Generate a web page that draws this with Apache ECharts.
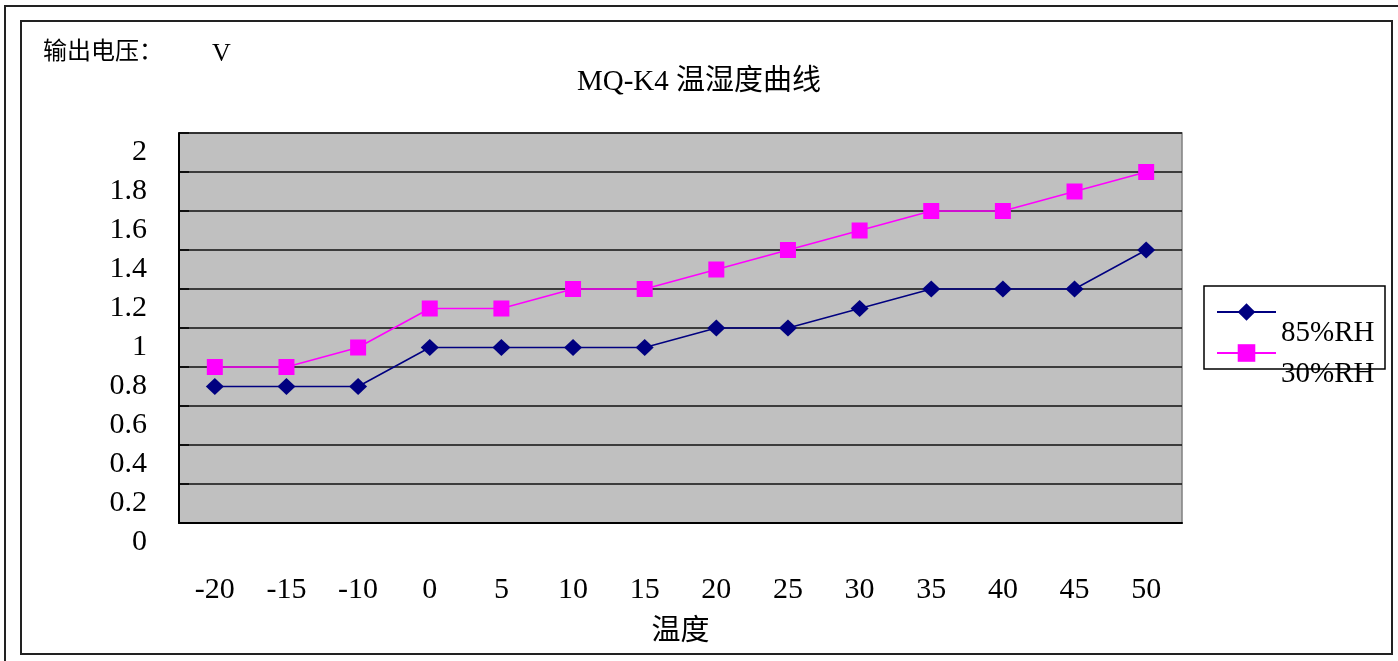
<!DOCTYPE html>
<html>
<head>
<meta charset="utf-8">
<script src="https://cdn.jsdelivr.net/npm/echarts@6/dist/echarts.min.js"></script>
<style>
html,body{margin:0;padding:0;background:#fff;}
#chart{width:1398px;height:661px;}
</style>
</head>
<body>
<div id="chart"></div>
<script>
var categories = ['-20','-15','-10','0','5','10','15','20','25','30','35','40','45','50'];
var rh85 = [0.7,0.7,0.7,0.9,0.9,0.9,0.9,1.0,1.0,1.1,1.2,1.2,1.2,1.4];
var rh30 = [0.8,0.8,0.9,1.1,1.1,1.2,1.2,1.3,1.4,1.5,1.6,1.6,1.7,1.8];
var seriesNames = ['85%RH','30%RH'];
var titleText = 'MQ-K4 温湿度曲线';
var yUnitLabel = '输出电压：';
var yUnit = 'V';
var xName = '温度';

var FONT = '"Liberation Serif", "Noto Sans CJK SC", serif';
var chart = echarts.init(document.getElementById('chart'));
chart.setOption({
  animation: false,
  backgroundColor: '#fff',
  title: [
    {text: titleText, left: 'center', top: 63, textStyle: {fontFamily: FONT, fontSize: 29, fontWeight: 'normal', color: '#000'}},
    {text: yUnitLabel, left: 38, top: 36, textStyle: {fontFamily: FONT, fontSize: 24, fontWeight: 'normal', color: '#000'}},
    {text: yUnit, left: 207, top: 36, textStyle: {fontFamily: FONT, fontSize: 26, fontWeight: 'normal', color: '#000'}}
  ],
  graphic: [
    {type: 'rect', shape: {x: 5, y: 6, width: 1420, height: 700}, style: {fill: 'none', stroke: '#222', lineWidth: 2}, silent: true, z: 0},
    {type: 'rect', shape: {x: 21, y: 21, width: 1371, height: 633}, style: {fill: 'none', stroke: '#222', lineWidth: 2}, silent: true, z: 0},
    {type: 'rect', shape: {x: 1204, y: 286, width: 181, height: 83}, style: {fill: 'none', stroke: '#000', lineWidth: 1.5}, silent: true, z: 0}
  ],
  legend: [
    {data: [seriesNames[0]], orient: 'vertical', left: 1216, top: 270, padding: 0, itemWidth: 59, itemHeight: 22,
     formatter: function (n) { return '\n' + n; },
     textStyle: {fontFamily: FONT, fontSize: 29, color: '#000', lineHeight: 42}},
    {data: [seriesNames[1]], orient: 'vertical', left: 1216, top: 311, padding: 0, itemWidth: 59, itemHeight: 22,
     formatter: function (n) { return '\n' + n; },
     textStyle: {fontFamily: FONT, fontSize: 29, color: '#000', lineHeight: 42}}
  ],
  grid: {left: 179, top: 133, width: 1003, height: 390, show: true, backgroundColor: '#C0C0C0', borderColor: '#808080', borderWidth: 1.5},
  xAxis: {
    type: 'category', data: categories, boundaryGap: true,
    name: xName, nameLocation: 'middle', nameGap: 95,
    nameTextStyle: {fontFamily: FONT, fontSize: 29, color: '#000'},
    axisLine: {lineStyle: {color: '#000', width: 2}},
    axisTick: {inside: true, length: 8, lineStyle: {color: '#000', width: 1.5}},
    axisLabel: {fontFamily: FONT, fontSize: 30, color: '#000', margin: 52}
  },
  yAxis: {
    type: 'value', min: 0, max: 2, interval: 0.2,
    axisLine: {show: true, lineStyle: {color: '#000', width: 2}},
    axisTick: {show: true, inside: true, length: 10, lineStyle: {color: '#000', width: 1.5}},
    splitLine: {show: true, lineStyle: {color: '#111', width: 1.5}},
    axisLabel: {fontFamily: FONT, fontSize: 30, color: '#000', margin: 32, verticalAlign: 'top', lineHeight: 38,
      showMinLabel: true, showMaxLabel: true,
      formatter: function (v) { return String(Number(v.toFixed(1))); }}
  },
  series: [
    {name: seriesNames[0], type: 'line', data: rh85, symbol: 'diamond', symbolSize: [18, 17],
     lineStyle: {color: '#000080', width: 1.5}, itemStyle: {color: '#000080'}, z: 3},
    {name: seriesNames[1], type: 'line', data: rh30, symbol: 'rect', symbolSize: 16,
     lineStyle: {color: '#FF00FF', width: 1.5}, itemStyle: {color: '#FF00FF'}, z: 3}
  ]
});
</script>
</body>
</html>
